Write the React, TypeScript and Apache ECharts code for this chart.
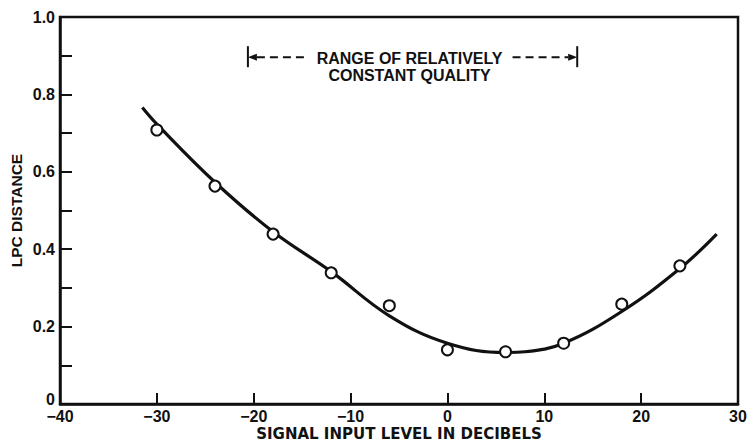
import React, { useEffect, useRef } from "react";
import * as echarts from "echarts";

// ---- data ----
const xAxisTitle = "SIGNAL INPUT LEVEL IN DECIBELS";
const yAxisTitle = "LPC DISTANCE";
const measuredX = [-30, -24, -18, -12, -6, 0, 6, 12, 18, 24];
const measuredY = [0.708, 0.563, 0.439, 0.339, 0.254, 0.14, 0.135, 0.157, 0.258, 0.357];
const fitX = [-31.5, -30, -24, -18, -12, -6, 0, 6, 8, 12, 18, 24, 27.8];
const fitY = [0.766, 0.723, 0.573, 0.445, 0.342, 0.228, 0.157, 0.133, 0.135, 0.157, 0.239, 0.35, 0.439];
const rangeStart = -20.6;
const rangeEnd = 13.4;
const rangeLevel = 0.9;
const rangeLine1 = "RANGE OF RELATIVELY";
const rangeLine2 = "CONSTANT QUALITY";

const FONT = "'Liberation Sans', Arial, Helvetica, sans-serif";
const WIDE_FONT = "'DejaVu Sans', 'Liberation Sans', sans-serif";
const INK = "#111";

export default function App() {
  const ref = useRef<HTMLDivElement | null>(null);

  useEffect(() => {
    document.body.style.margin = "0";
    if (!ref.current) return;
    const chart = echarts.init(ref.current, null, { renderer: "svg" });
    const option: any = {
      animation: false,
      backgroundColor: "#fff",
      grid: {
        left: 60,
        right: 9,
        top: 17,
        bottom: 39,
        containLabel: false,
        outerBoundsMode: "none",
        show: true,
        borderColor: INK,
        borderWidth: 2.5,
        backgroundColor: "transparent",
      },
      xAxis: {
        type: "value",
        min: -40,
        max: 30,
        interval: 10,
        name: xAxisTitle,
        nameLocation: "middle",
        nameGap: 22,
        nameMoveOverlap: false,
        nameTextStyle: { fontFamily: WIDE_FONT, fontSize: 15, fontWeight: "bold", color: INK },
        axisLine: { show: true, onZero: false, lineStyle: { color: INK, width: 2.5 } },
        axisTick: { show: true, inside: true, length: 11, lineStyle: { color: INK, width: 2 } },
        axisLabel: {
          margin: 4,
          fontFamily: FONT,
          fontSize: 16,
          fontWeight: "bold",
          color: INK,
          formatter: (v: number) => (v < 0 ? "\u2212" + Math.abs(v) : String(v)),
        },
        splitLine: { show: false },
      },
      yAxis: {
        type: "value",
        min: 0,
        max: 1,
        interval: 0.1,
        name: yAxisTitle,
        nameLocation: "middle",
        nameGap: 36,
        nameRotate: 90,
        nameMoveOverlap: false,
        nameTextStyle: { fontFamily: FONT, fontSize: 15.5, fontWeight: "bold", color: INK },
        axisLine: { show: true, onZero: false, lineStyle: { color: INK, width: 2.5 } },
        axisTick: { show: true, inside: true, length: 12, lineStyle: { color: INK, width: 2 } },
        axisLabel: {
          margin: 5,
          fontFamily: FONT,
          fontSize: 16,
          fontWeight: "bold",
          color: INK,
          formatter: (v: number) => {
            const k = Math.round(v * 10);
            if (k % 2 !== 0) return "";
            if (k === 0) return "{z|0}";
            return (k / 10).toFixed(1);
          },
          rich: {
            z: {
              fontFamily: FONT,
              fontSize: 16,
              fontWeight: "bold",
              color: INK,
              padding: [0, 0, 10, 0],
            },
          },
        },
        splitLine: { show: false },
      },
      series: [
        {
          type: "line",
          data: fitX.map((x, i) => [x, fitY[i]]),
          smooth: 0.4,
          symbol: "none",
          lineStyle: { color: INK, width: 3.2 },
          z: 2,
        },
        {
          type: "scatter",
          data: measuredX.map((x, i) => [x, measuredY[i]]),
          symbol: "circle",
          symbolSize: 11,
          itemStyle: { color: "#fff", borderColor: INK, borderWidth: 2, opacity: 1 },
          z: 3,
        },
      ],
    };
    chart.setOption(option);

    const pL = chart.convertToPixel({ gridIndex: 0 }, [rangeStart, rangeLevel]) as number[];
    const pR = chart.convertToPixel({ gridIndex: 0 }, [rangeEnd, rangeLevel]) as number[];
    const L = pL[0];
    const R = pR[0];
    const Y = pL[1] + 1.5;
    const cx = (L + R) / 2 - 3;
    const half = 97;
    const ah = 9;
    const lineStyle = { stroke: INK, lineWidth: 2 };
    const dashStyle = { stroke: INK, lineWidth: 2, lineDash: [8, 5] };
    chart.setOption({
      graphic: [
        { type: "line", shape: { x1: L, y1: Y - 11, x2: L, y2: Y + 10 }, style: lineStyle, z: 10 },
        { type: "line", shape: { x1: R, y1: Y - 11, x2: R, y2: Y + 10 }, style: lineStyle, z: 10 },
        {
          type: "polygon",
          shape: { points: [[L, Y], [L + ah, Y - 3.5], [L + ah, Y + 3.5]] },
          style: { fill: INK },
          z: 10,
        },
        {
          type: "polygon",
          shape: { points: [[R, Y], [R - ah, Y - 3.5], [R - ah, Y + 3.5]] },
          style: { fill: INK },
          z: 10,
        },
        { type: "line", shape: { x1: L + ah, y1: Y, x2: cx - half - 5, y2: Y }, style: dashStyle, z: 10 },
        { type: "line", shape: { x1: cx + half + 6, y1: Y, x2: R - ah, y2: Y }, style: dashStyle, z: 10 },
        {
          type: "text",
          x: cx,
          y: Y + 1,
          style: {
            text: rangeLine1,
            fontFamily: FONT,
            fontSize: 16,
            fontWeight: "bold",
            fill: INK,
            align: "center",
            verticalAlign: "middle",
          },
          z: 10,
        },
        {
          type: "text",
          x: cx,
          y: Y + 18,
          style: {
            text: rangeLine2,
            fontFamily: FONT,
            fontSize: 16,
            fontWeight: "bold",
            fill: INK,
            align: "center",
            verticalAlign: "middle",
          },
          z: 10,
        },
      ],
    });

    return () => chart.dispose();
  }, []);

  return (
    <div
      ref={ref}
      style={{ position: "absolute", left: 0, top: 0, width: 747, height: 443 }}
    />
  );
}
